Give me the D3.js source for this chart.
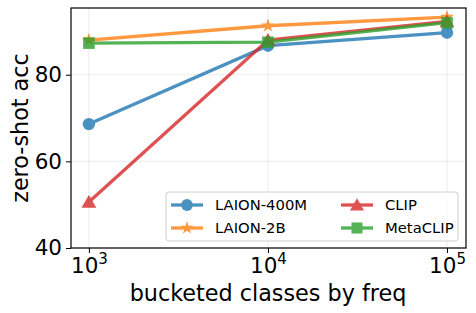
<!DOCTYPE html>
<html>
<head>
<meta charset="utf-8">
<script src="https://cdn.jsdelivr.net/npm/d3@7"></script>
<style>
  body { margin: 0; background: #fff; }
  svg { font-family: "DejaVu Sans", sans-serif; }
</style>
</head>
<body>
<div id="chart"></div>
<script>
const buckets = [1000, 10000, 100000];
const yTicks = [40, 60, 80];
const seriesNames = ["LAION-400M", "LAION-2B", "CLIP", "MetaCLIP"];
const laion400m = [68.6, 86.7, 89.7];
const laion2b = [88.0, 91.3, 93.3];
const clip = [50.6, 88.0, 92.3];
const metaclip = [87.3, 87.5, 92.0];

const width = 476, height = 313;
const margin = { top: 8, right: 10, bottom: 65, left: 71 };
const innerW = width - margin.left - margin.right;
const innerH = height - margin.top - margin.bottom;

const series = [
  { name: seriesNames[0], values: laion400m, color: "#1f77b4", marker: "circle" },
  { name: seriesNames[1], values: laion2b, color: "#ff7f0e", marker: "star" },
  { name: seriesNames[2], values: clip, color: "#d62728", marker: "triangle" },
  { name: seriesNames[3], values: metaclip, color: "#2ca02c", marker: "square" },
];

const x = d3.scaleLog()
  .domain([Math.pow(10, 2.9), Math.pow(10, 5.106)])
  .range([0, innerW]);
const y = d3.scaleLinear().domain([40, 95.4]).range([innerH, 0]);

const svg = d3.select("#chart").append("svg")
  .attr("width", width).attr("height", height);
const g = svg.append("g").attr("transform", `translate(${margin.left},${margin.top})`);

// grid
g.append("g").selectAll("line.gx").data(buckets).join("line")
  .attr("x1", (d) => x(d)).attr("x2", (d) => x(d))
  .attr("y1", 0).attr("y2", innerH)
  .attr("stroke", "#b0b0b0").attr("stroke-opacity", 0.3).attr("stroke-width", 0.8);
g.append("g").selectAll("line.gy").data(yTicks).join("line")
  .attr("x1", 0).attr("x2", innerW)
  .attr("y1", (d) => y(d)).attr("y2", (d) => y(d))
  .attr("stroke", "#b0b0b0").attr("stroke-opacity", 0.3).attr("stroke-width", 0.8);

// axes
const xAxis = g.append("g").attr("transform", `translate(0,${innerH})`)
  .call(d3.axisBottom(x).tickValues(buckets).tickSize(5).tickPadding(4).tickFormat(() => ""));
xAxis.selectAll(".tick text").each(function (d) {
  const t = d3.select(this);
  t.append("tspan").text("10");
  t.append("tspan").text(Math.round(Math.log10(d)))
    .attr("font-size", 15).attr("dy", "-0.6em");
});
const yAxis = g.append("g")
  .call(d3.axisLeft(y).tickValues(yTicks).tickSize(5).tickPadding(4));
[xAxis, yAxis].forEach((a) => {
  a.select(".domain").remove();
  a.selectAll(".tick line").attr("stroke", "#000").attr("stroke-width", 1);
  a.selectAll(".tick text").attr("font-size", 21.5).attr("fill", "#000")
    .attr("font-family", "DejaVu Sans, sans-serif");
});
xAxis.selectAll(".tick text").attr("dy", "0.74em");

g.append("rect").attr("width", innerW).attr("height", innerH)
  .attr("fill", "none").attr("stroke", "#000").attr("stroke-width", 1.2);

svg.append("text").attr("x", 268).attr("y", 301)
  .attr("text-anchor", "middle").attr("font-size", 22.3).text("bucketed classes by freq");
svg.append("text")
  .attr("transform", `translate(28,${margin.top + innerH / 2}) rotate(-90)`)
  .attr("text-anchor", "middle").attr("font-size", 22.3).text("zero-shot acc");

function drawMarker(sel, type, color, k) {
  if (type === "circle") {
    sel.append("circle").attr("r", 6.2 * k).attr("fill", color);
  } else {
    const symbols = { star: d3.symbolStar, triangle: d3.symbolTriangle, square: d3.symbolSquare };
    const areas = { star: 60, triangle: 95, square: 135 };
    sel.append("path")
      .attr("d", d3.symbol().type(symbols[type]).size(areas[type] * k * k)())
      .attr("transform", type === "triangle" ? `translate(0,${1.5 * k})` : null)
      .attr("fill", color);
  }
}

const line = d3.line().x((d, i) => x(buckets[i])).y((d) => y(d));
series.forEach((s) => {
  const sg = g.append("g").attr("opacity", 0.8);
  sg.append("path").datum(s.values).attr("d", line)
    .attr("fill", "none").attr("stroke", s.color).attr("stroke-width", 3.3);
  s.values.forEach((v, i) => {
    const m = sg.append("g").attr("transform", `translate(${x(buckets[i])},${y(v)})`);
    drawMarker(m, s.marker, s.color, 1);
  });
});

// legend
const leg = svg.append("g").attr("transform", "translate(166,192)");
leg.append("rect").attr("width", 292).attr("height", 49).attr("rx", 3)
  .attr("fill", "#fff").attr("fill-opacity", 0.8)
  .attr("stroke", "#d0d0d0").attr("stroke-width", 1);
series.forEach((s, i) => {
  const col = Math.floor(i / 2), row = i % 2;
  const item = leg.append("g")
    .attr("transform", `translate(${5 + col * 170},${13 + row * 23})`);
  const ig = item.append("g").attr("opacity", 0.8);
  ig.append("line").attr("x1", 0).attr("x2", 32).attr("y1", 0).attr("y2", 0)
    .attr("stroke", s.color).attr("stroke-width", 3.3);
  const m = ig.append("g").attr("transform", "translate(16,0)");
  drawMarker(m, s.marker, s.color, 0.95);
  item.append("text").attr("x", 44).attr("y", 0).attr("dy", "0.36em")
    .attr("font-size", 14.8).text(s.name);
});
</script>
</body>
</html>
